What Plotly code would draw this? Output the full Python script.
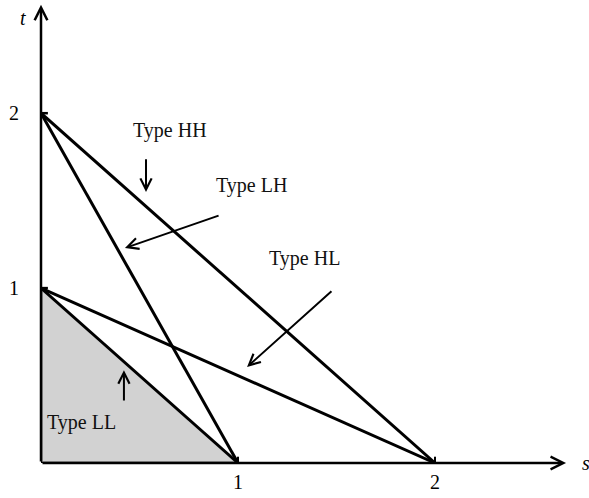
import plotly.graph_objects as go

# ---- data ----
type_names = ["Type HH", "Type LH", "Type HL", "Type LL"]
s_intercepts = [2, 1, 2, 1]          # where each boundary meets the s-axis
t_intercepts = [2, 2, 1, 1]          # where each boundary meets the t-axis
s_ticks = [1, 2]
t_ticks = [1, 2]
tick_labels_s = ["1", "2"]
tick_labels_t = ["1", "2"]
# label positions and arrow (tail -> head) in data units
label_x = [0.655, 1.066, 1.340, 0.208]
label_y = [1.903, 1.589, 1.171, 0.229]
arrow_tail_x = [0.533, 0.909, 1.482, 0.421]
arrow_tail_y = [1.745, 1.417, 0.989, 0.349]
arrow_head_x = [0.533, 0.426, 1.046, 0.421]
arrow_head_y = [1.549, 1.229, 0.549, 0.531]

X_MAX = 2.675
Y_MAX = 2.63
FONT = "Liberation Serif, Times New Roman, serif"
FS = 20

fig = go.Figure()

# shaded LL triangle
fig.add_trace(go.Scatter(
    x=[0, s_intercepts[3], 0, 0], y=[0, 0, t_intercepts[3], 0],
    fill="toself", fillcolor="#d2d2d2", mode="lines",
    line=dict(color="rgba(0,0,0,0)", width=0), hoverinfo="skip", showlegend=False))

# the boundary lines
for name, s0, t0 in zip(type_names, s_intercepts, t_intercepts):
    fig.add_trace(go.Scatter(
        x=[0, s0], y=[t0, 0], mode="lines", name=name,
        line=dict(color="black", width=3), showlegend=False))

# LL triangle edges on the axes
fig.add_trace(go.Scatter(x=[0, 0, s_intercepts[3]], y=[t_intercepts[3], 0, 0], mode="lines",
                         line=dict(color="black", width=2.5), showlegend=False, hoverinfo="skip"))

# ticks
fig.add_trace(go.Scatter(x=s_ticks, y=[0] * len(s_ticks), mode="markers",
                         marker=dict(symbol="line-ns", size=9, line=dict(color="black", width=2)),
                         showlegend=False, hoverinfo="skip"))
for tv in t_ticks:
    fig.add_shape(type="line", x0=0, x1=0.035, y0=tv, y1=tv, xref="x", yref="y",
                  line=dict(color="black", width=2.5))

ann = []
# axes arrows
ann.append(dict(x=X_MAX - 0.01, y=0, ax=0, ay=0, xref="x", yref="y", axref="x", ayref="y",
                showarrow=True, arrowhead=5, arrowsize=1, arrowwidth=2.5, arrowcolor="black", text=""))
ann.append(dict(x=0, y=Y_MAX - 0.01, ax=0, ay=0, xref="x", yref="y", axref="x", ayref="y",
                showarrow=True, arrowhead=5, arrowsize=1, arrowwidth=2.5, arrowcolor="black", text=""))
# axis titles
ann.append(dict(x=X_MAX, y=0, xref="x", yref="y", text="<i>s</i>", showarrow=False,
                xanchor="left", yanchor="middle", xshift=12, font=dict(family=FONT, size=FS, color="black")))
ann.append(dict(x=0, y=Y_MAX, xref="x", yref="y", text="<i>t</i>", showarrow=False,
                xanchor="right", yanchor="top", xshift=-13, yshift=-2, font=dict(family=FONT, size=FS, color="black")))
# tick labels
for v, lab in zip(s_ticks, tick_labels_s):
    ann.append(dict(x=v, y=0, xref="x", yref="y", text=lab, showarrow=False, yanchor="top",
                    yshift=-6, font=dict(family=FONT, size=FS, color="black")))
for v, lab in zip(t_ticks, tick_labels_t):
    ann.append(dict(x=0, y=v, xref="x", yref="y", text=lab, showarrow=False, xanchor="right",
                    xshift=-20, font=dict(family=FONT, size=FS, color="black")))
# type labels and pointer arrows
for name, lx, ly, tx, ty, hx, hy in zip(type_names, label_x, label_y, arrow_tail_x, arrow_tail_y,
                                        arrow_head_x, arrow_head_y):
    ann.append(dict(x=lx, y=ly, xref="x", yref="y", text=name, showarrow=False,
                    font=dict(family=FONT, size=FS, color="#111")))
    ann.append(dict(x=hx, y=hy, ax=tx, ay=ty, xref="x", yref="y", axref="x", ayref="y",
                    text="", showarrow=True, arrowhead=5, arrowsize=1.1, arrowwidth=2, arrowcolor="black"))

fig.update_layout(
    width=589, height=498,
    margin=dict(l=41, r=21, t=3, b=35),
    paper_bgcolor="white", plot_bgcolor="white",
    xaxis=dict(range=[0, X_MAX], visible=False, fixedrange=True),
    yaxis=dict(range=[0, Y_MAX], visible=False, fixedrange=True),
    annotations=ann,
    showlegend=False,
)

fig.write_html("out.html", config={"displayModeBar": False},
               post_script="document.body.style.margin='0';document.body.style.overflow='hidden';")
